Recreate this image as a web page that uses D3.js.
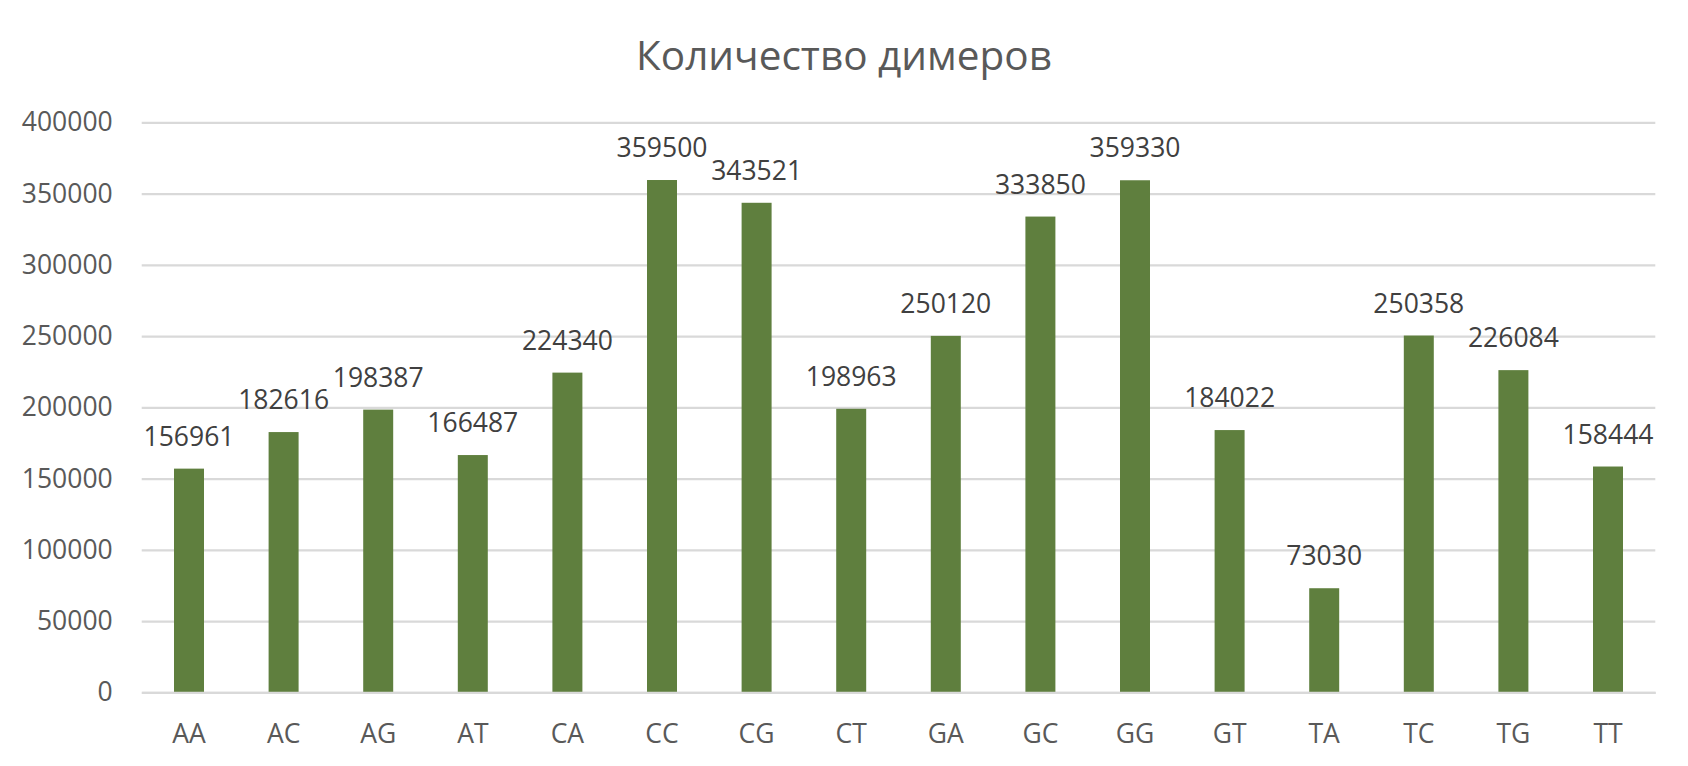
<!DOCTYPE html>
<html>
<head>
<meta charset="utf-8">
<script src="https://cdn.jsdelivr.net/npm/d3@7"></script>
<style>
  html, body { margin: 0; padding: 0; background: #fff; }
  svg text { font-family: "Open Sans", sans-serif; }
</style>
</head>
<body>
<div id="chart"></div>
<script>
// dimers and their counts
var dimers = ["AA", "AC", "AG", "AT", "CA", "CC", "CG", "CT",
              "GA", "GC", "GG", "GT", "TA", "TC", "TG", "TT"];
var counts = [156961, 182616, 198387, 166487, 224340, 359500, 343521, 198963,
              250120, 333850, 359330, 184022, 73030, 250358, 226084, 158444];
var yTicks = [0, 50000, 100000, 150000, 200000, 250000, 300000, 350000, 400000];
var title = "Количество димеров";

var W = 1688, H = 766;
var margin = {top: 122.3, right: 32.7, bottom: 73.7, left: 141.7},
  width = W - margin.left - margin.right,
  height = H - margin.top - margin.bottom;

var data = dimers.map(function(d, i) { return {name: d, value: counts[i]}; });

var svg = d3.select("#chart").append("svg")
    .attr("width", W)
    .attr("height", H);

svg.append("text")
    .attr("x", W / 2)
    .attr("y", 70)
    .attr("text-anchor", "middle")
    .attr("fill", "#595959")
    .style("font-size", "40.5px")
    .text(title);

var g = svg.append("g")
    .attr("transform", "translate(" + margin.left + "," + margin.top + ")");

var x = d3.scaleBand()
    .domain(dimers)
    .range([0, width])
    .paddingInner(0.683)
    .paddingOuter(0.683 / 2);

var y = d3.scaleLinear()
    .domain([0, 400000])
    .range([height, 0]);

// gridlines + y labels
var yAxis = g.append("g")
    .call(d3.axisLeft(y).tickValues(yTicks).tickSize(-width).tickPadding(29)
      .tickFormat(d3.format("d")));
yAxis.select(".domain").remove();
yAxis.selectAll(".tick line")
    .attr("stroke", "#d9d9d9")
    .attr("stroke-width", 2.2);
yAxis.selectAll(".tick text")
    .attr("fill", "#595959")
    .style("font-size", "26.5px");

// bars
g.selectAll(".bar")
    .data(data)
  .enter().append("rect")
    .attr("class", "bar")
    .attr("x", function(d) { return x(d.name); })
    .attr("width", x.bandwidth())
    .attr("y", function(d) { return y(d.value); })
    .attr("height", function(d) { return height - y(d.value); })
    .attr("fill", "#5f7f3e");

// x axis line and labels
var xAxis = g.append("g")
    .attr("transform", "translate(0," + height + ")")
    .call(d3.axisBottom(x).tickSize(0));
xAxis.select(".domain")
    .attr("stroke", "#d9d9d9")
    .attr("stroke-width", 2.2);
xAxis.selectAll(".tick text")
    .attr("y", 50.4)
    .attr("dy", 0)
    .attr("fill", "#595959")
    .style("font-size", "26.5px");

// value labels
g.selectAll(".label")
    .data(data)
  .enter().append("text")
    .attr("class", "label")
    .attr("x", function(d) { return x(d.name) + x.bandwidth() / 2; })
    .attr("y", function(d) { return y(d.value) - 23; })
    .attr("text-anchor", "middle")
    .attr("fill", "#404040")
    .style("font-size", "26.5px")
    .text(function(d) { return d.value; });
</script>
</body>
</html>
